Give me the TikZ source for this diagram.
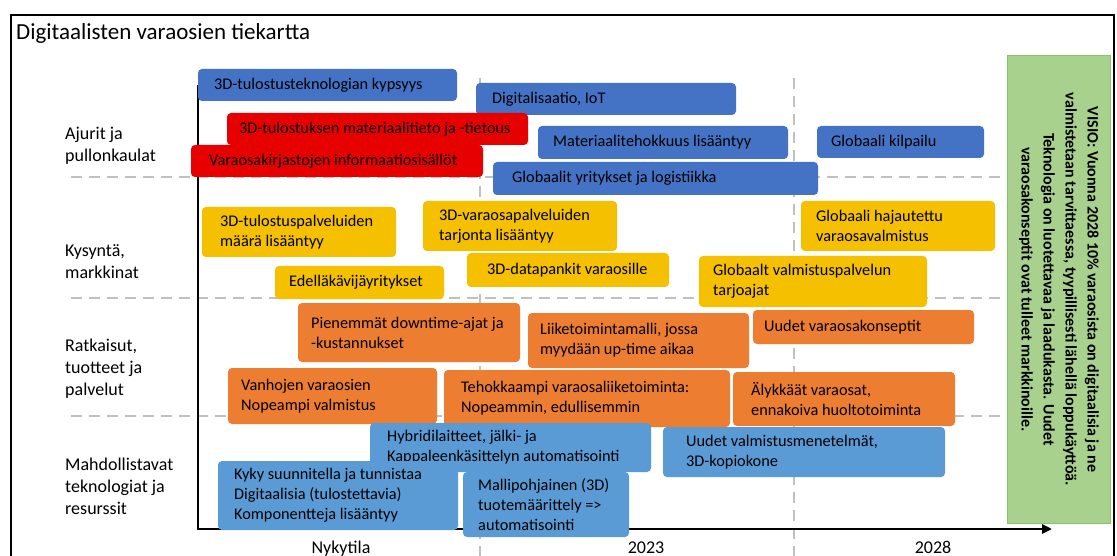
\documentclass[tikz,border=0pt]{standalone}
\usepackage{fontspec}
\setmainfont{Carlito}
\usetikzlibrary{arrows.meta}
\definecolor{cblue}{HTML}{4472C4}
\definecolor{cred}{HTML}{E60000}
\definecolor{cyellow}{HTML}{F5C000}
\definecolor{corange}{HTML}{ED7D31}
\definecolor{clblue}{HTML}{5B9BD5}
\definecolor{cgreen}{HTML}{A9D18E}
\definecolor{cgreenb}{HTML}{8CBF6E}
\definecolor{cgrid}{HTML}{C0C0C0}
\tikzset{
  rbox/.style={rounded corners=4pt, inner sep=0pt, outer sep=0pt},
  btext/.style={inner sep=0pt, align=left, text=black, font=\fontsize{16.3}{20}\selectfont},
  rowlabel/.style={inner sep=0pt, align=left, anchor=west, font=\fontsize{18}{22}\selectfont},
  axlabel/.style={inner sep=0pt, anchor=base, font=\fontsize{18}{20}\selectfont},
  gridline/.style={draw=cgrid, line width=2pt, dash pattern=on 11pt off 7pt},
  axisline/.style={line width=2.5pt, line join=miter, -{Triangle[length=10pt,width=9pt]}},
}
\newcommand\rmbox[8]{%
  \node[rbox, fill=#2, minimum width={(#5-#3)*1pt}, minimum height={(#6-#4)*1pt}, anchor=north west] (#1) at (#3,#4) {};
  \node[btext, anchor=west] (#1t) at ([xshift=#7pt]#1.west) {#8};
}
\begin{document}
\begin{tikzpicture}[x=1pt,y=-1pt]
\useasboundingbox (0,0) rectangle (1117,556);
\fill[white] (0,0) rectangle (1117,556);
% frame
\draw[line width=1.3pt] (11,15) rectangle (1114,570);
\node[inner sep=0pt, anchor=west, font=\fontsize{23}{26}\selectfont] (title) at (16,33) {Digitaalisten varaosien tiekartta};
% grid
\coordinate (h1a) at (71,177); \coordinate (h1b) at (1035,177);
\coordinate (h2a) at (71,298); \coordinate (h2b) at (1035,298);
\coordinate (h3a) at (71,416); \coordinate (h3b) at (1035,416);
\coordinate (v1a) at (480,78); \coordinate (v1b) at (480,556);
\coordinate (v2a) at (794,78); \coordinate (v2b) at (794,556);
\draw[gridline] (h1a) -- (h1b);
\draw[gridline] (h2a) -- (h2b);
\draw[gridline] (h3a) -- (h3b);
\draw[gridline] (v1a) -- (v1b);
\draw[gridline] (v2a) -- (v2b);
% green vision box
\node[draw=cgreenb, fill=cgreen, line width=0.8pt, minimum width=103pt, minimum height=468pt, inner sep=0pt, anchor=north west] (vis) at (1007,55) {};
\node[rotate=-90, align=center, inner sep=0pt, font=\bfseries\fontsize{16}{22}\selectfont] (vist) at (vis.center) {VISIO: Vuonna 2028 10\% varaosista on digitaalisia ja ne\\valmistetaan tarvittaessa, tyypillisesti lähellä loppukäyttöä.\\Teknologia on luotettavaa ja laadukasta. Uudet\\varaosakonseptit ovat tulleet markkinoille.};
% axes
\coordinate (ytop) at (198,85);
\coordinate (orig) at (198,529);
\coordinate (xend) at (1052,529);
\draw[axisline] (ytop) -- (orig) -- (xend);
% row labels
\node[rowlabel] (r1) at (65,146) {Ajurit ja\\pullonkaulat};
\node[rowlabel] (r2) at (65,262) {Kysyntä,\\markkinat};
\node[rowlabel] (r3) at (65,369) {Ratkaisut,\\tuotteet ja\\palvelut};
\node[rowlabel] (r4) at (65,486) {Mahdollistavat\\teknologiat ja\\resurssit};
% axis labels
\node[axlabel] (l0) at (341,553) {Nykytila};
\node[axlabel] (l1) at (646,553) {2023};
\node[axlabel] (l2) at (933,553) {2028};
% row 1
\rmbox{b1}{cblue}{198}{69}{457}{101}{16}{3D-tulostusteknologian kypsyys}
\rmbox{b2}{cblue}{476}{83}{736}{115}{16}{Digitalisaatio, IoT}
\rmbox{b3}{cred}{227}{113}{528}{145}{12}{3D-tulostuksen materiaalitieto ja -tietous}
\rmbox{b4}{cred}{191}{145}{483}{177}{18}{Varaosakirjastojen informaatiosisällöt}
\rmbox{b5}{cblue}{538}{126}{788}{159}{15}{Materiaalitehokkuus lisääntyy}
\rmbox{b6}{cblue}{817}{126}{984}{158}{14}{Globaali kilpailu}
\rmbox{b7}{cblue}{493}{162}{818}{195}{19}{Globaalit yritykset ja logistiikka}
% row 2
\rmbox{b8}{cyellow}{202}{207}{396}{257}{18}{3D-tulostuspalveluiden\\määrä lisääntyy}
\rmbox{b9}{cyellow}{423}{201}{617}{251}{16}{3D-varaosapalveluiden\\tarjonta lisääntyy}
\rmbox{b10}{cyellow}{467}{253}{669}{287}{20}{3D-datapankit varaosille}
\rmbox{b11}{cyellow}{275}{266}{444}{299}{14}{Edelläkävijäyritykset}
\rmbox{b12}{cyellow}{801}{201}{995}{251}{15}{Globaali hajautettu\\varaosavalmistus}
\rmbox{b13}{cyellow}{699}{256}{927}{307}{14}{Globaalt valmistuspalvelun\\tarjoajat}
% row 3
\rmbox{b14}{corange}{298}{303}{520}{362}{13}{Pienemmät downtime-ajat ja\\-kustannukset}
\rmbox{b15}{corange}{528}{313}{749}{368}{12}{Liiketoimintamalli, jossa\\myydään up-time aikaa}
\rmbox{b16}{corange}{753}{310}{974}{344}{11}{Uudet varaosakonseptit}
\rmbox{b17}{corange}{228}{368}{437}{424}{13}{Vanhojen varaosien\\Nopeampi valmistus}
\rmbox{b18}{corange}{444}{370}{730}{427}{17}{Tehokkaampi varaosaliiketoiminta:\\Nopeammin, edullisemmin}
\rmbox{b19}{corange}{733}{372}{955}{426}{18}{Älykkäät varaosat,\\ennakoiva huoltotoiminta}
% row 4
\rmbox{b20}{clblue}{370}{423}{651}{472}{17}{Hybridilaitteet, jälki- ja\\Kappaleenkäsittelyn automatisointi}
\rmbox{b23}{clblue}{663}{427}{945}{477}{23}{Uudet valmistusmenetelmät,\\3D-kopiokone}
\rmbox{b21}{clblue}{218}{461}{458}{530}{16}{Kyky suunnitella ja tunnistaa\\Digitaalisia (tulostettavia)\\Komponentteja lisääntyy}
\rmbox{b22}{clblue}{463}{472}{629}{537}{15}{Mallipohjainen (3D)\\tuotemäärittely =>\\automatisointi}
\end{tikzpicture}
\end{document}
